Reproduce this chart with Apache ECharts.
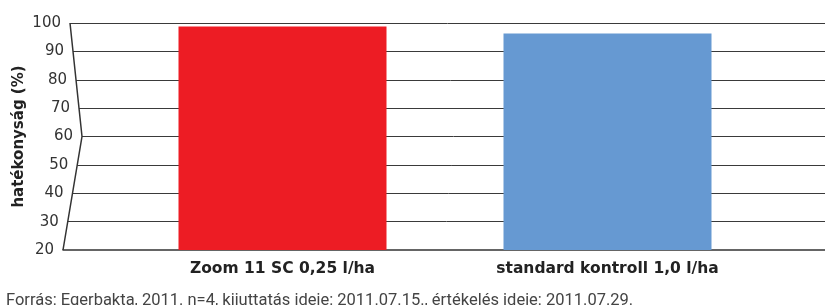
<!DOCTYPE html>
<html>
<head>
<meta charset="utf-8">
<script src="https://cdn.jsdelivr.net/npm/echarts@6/dist/echarts.min.js"></script>
<style>
  html, body { margin: 0; padding: 0; background: #fff; }
  #chart { width: 825px; height: 305px; }
</style>
</head>
<body>
<div id="chart"></div>
<script>
const categories = ['Zoom 11 SC 0,25 l/ha', 'standard kontroll 1,0 l/ha']
const efficiency = [98.8, 96.3]
const barColors = ['#ed1c24', '#6699d2']
const yMin = 20
const yMax = 100
const yStep = 10
const yName = 'hatékonyság (%)'
const footnote = 'Forrás: Egerbakta, 2011. n=4, kijuttatás ideje: 2011.07.15., értékelés ideje: 2011.07.29.'

// the y axis is drawn as a ">" shaped broken line; offset (px) from grid left per value
const maxOffset = 19
function axisOffset(v) {
  if (v >= 60) return 7 + (100 - v) / 40 * 12
  return maxOffset - (60 - v) / 40 * maxOffset
}

const gridLeft = 63
const gridWidth = 825 - gridLeft
const gridTop = 23
const gridBottom = 55

const rich = {
  n: { fontFamily: 'DejaVu Sans', fontSize: 15, color: '#333' }
}
const gridLines = []
for (let v = yMin; v <= yMax; v += yStep) {
  rich['s' + v] = { width: maxOffset - axisOffset(v), fontSize: 15 }
  if (v > yMin) {
    gridLines.push([{ coord: [axisOffset(v) / gridWidth, v] }, { coord: [1, v] }])
  }
}

const chart = echarts.init(document.getElementById('chart'))

const option = {
  animation: false,
  title: {
    text: footnote,
    left: 1,
    top: 287,
    textStyle: {
      fontFamily: 'Roboto',
      fontWeight: 'normal',
      fontSize: 16.5,
      color: '#444'
    }
  },
  grid: [
    { left: gridLeft, right: 0, top: gridTop, bottom: gridBottom, outerBoundsMode: 'none' },
    { left: 120, right: 55, top: gridTop, bottom: gridBottom, outerBoundsMode: 'none' }
  ],
  xAxis: [
    {
      gridIndex: 0,
      type: 'value',
      min: 0,
      max: 1,
      axisLine: { show: true, lineStyle: { color: '#333', width: 1.5 } },
      axisTick: { show: false },
      axisLabel: { show: false },
      splitLine: { show: false }
    },
    {
      gridIndex: 1,
      type: 'category',
      data: categories,
      axisLine: { show: false },
      axisTick: { show: false },
      axisLabel: {
        margin: 11,
        fontFamily: 'DejaVu Sans',
        fontWeight: 'bold',
        fontSize: 15.5,
        color: '#222'
      }
    }
  ],
  yAxis: [
    {
      gridIndex: 0,
      type: 'value',
      min: yMin,
      max: yMax,
      interval: yStep,
      name: yName,
      nameLocation: 'middle',
      nameGap: 36,
      nameMoveOverlap: false,
      nameTextStyle: {
        fontFamily: 'DejaVu Sans',
        fontWeight: 'bold',
        fontSize: 15,
        color: '#222'
      },
      axisLine: { show: false },
      axisTick: { show: false },
      axisLabel: {
        margin: 9 - maxOffset,
        fontFamily: 'DejaVu Sans',
        fontSize: 15,
        color: '#333',
        formatter: function (v) {
          return '{n|' + v + '}{s' + v + '| }'
        },
        rich: rich
      },
      splitLine: { show: false }
    },
    {
      gridIndex: 1,
      type: 'value',
      min: yMin,
      max: yMax,
      interval: yStep,
      axisLine: { show: false },
      axisTick: { show: false },
      axisLabel: { show: false },
      splitLine: { show: false }
    }
  ],
  series: [
    {
      // gridlines starting at the broken axis
      type: 'line',
      xAxisIndex: 0,
      yAxisIndex: 0,
      data: [],
      silent: true,
      z: 0,
      markLine: {
        silent: true,
        z: 0,
        symbol: 'none',
        label: { show: false },
        lineStyle: { type: 'solid', color: '#3a3a3a', width: 1 },
        data: gridLines
      }
    },
    {
      type: 'bar',
      xAxisIndex: 1,
      yAxisIndex: 1,
      barWidth: 208,
      z: 20,
      data: efficiency.map(function (v, i) {
        return { value: v, itemStyle: { color: barColors[i] } }
      })
    }
  ]
}
chart.setOption(option)

// draw the broken y axis line from the axis scale
const left = chart.getModel().getComponent('grid', 0).coordinateSystem.getRect().x
const pts = [yMax, 60, yMin].map(function (v) {
  const y = chart.convertToPixel({ yAxisIndex: 0 }, v)
  return [left + axisOffset(v), y]
})
chart.setOption({
  graphic: [
    {
      type: 'polyline',
      shape: { points: pts },
      style: { stroke: '#333', lineWidth: 1.5, fill: null },
      z: 30
    }
  ]
})
</script>
</body>
</html>
